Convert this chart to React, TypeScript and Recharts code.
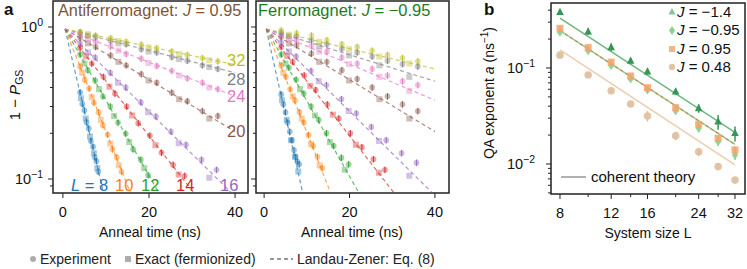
import React from 'react';
import { ComposedChart, Scatter, XAxis, YAxis, ReferenceArea, ErrorBar } from 'recharts';

const W = 747;
const H = 269;
const FONT = '"Liberation Sans", Arial, Helvetica, sans-serif';
const AXIS_COLOR = '#222';

// ---------------- panel a data (1 - P_GS vs anneal time) ----------------
const L_SIZES = [8, 10, 12, 14, 16, 20, 24, 28, 32];
const L_COLORS = ['#1f77b4', '#ff7f0e', '#2ca02c', '#d62728', '#9467bd', '#8c564b', '#e377c2', '#7f7f7f', '#bcbd22'];

const EXP_TIMES = [
  [4.0, 4.5, 5.0, 5.5, 6.0, 6.5, 7.0, 7.4, 7.8, 8.2],
  [4.0, 5.1, 6.1, 7.2, 8.3, 9.3, 10.4, 11.5, 12.5, 13.6],
  [4.0, 5.8, 7.5, 9.3, 11.0, 12.8, 14.6, 16.3, 18.1, 19.8],
  [4.0, 6.7, 9.4, 12.1, 14.8, 17.5, 20.2, 22.9, 25.6, 28.3],
  [4.0, 7.5, 11.0, 14.6, 18.1, 21.6, 25.1, 28.6, 32.2, 35.7],
  [4.0, 7.6, 11.1, 14.7, 18.2, 21.8, 25.3, 28.9, 32.4, 36.0],
  [4.0, 7.6, 11.1, 14.7, 18.2, 21.8, 25.3, 28.9, 32.4, 36.0],
  [4.0, 7.6, 11.1, 14.7, 18.2, 21.8, 25.3, 28.9, 32.4, 36.0],
  [4.0, 7.6, 11.1, 14.7, 18.2, 21.8, 25.3, 28.9, 32.4, 36.0],
];
const EXACT_TIMES = [
  [4.2, 5.3, 6.3, 7.2, 8.0],
  [4.5, 6.7, 8.8, 11.0, 13.0],
  [5.0, 8.4, 11.9, 15.4, 18.9],
  [5.4, 10.8, 16.1, 21.5, 26.9],
  [5.8, 12.8, 19.8, 26.9, 34.0],
  [5.8, 12.9, 19.9, 27.0, 34.0],
  [5.8, 12.9, 19.9, 27.0, 34.0],
  [5.8, 12.9, 19.9, 27.0, 34.0],
  [5.8, 12.9, 19.9, 27.0, 34.0],
];

const AFM_EXP = [
  [0.372, 0.312, 0.283, 0.236, 0.215, 0.178, 0.163, 0.139, 0.131, 0.112],
  [0.55, 0.45, 0.395, 0.318, 0.275, 0.226, 0.196, 0.157, 0.139, 0.112],
  [0.66, 0.52, 0.445, 0.35, 0.30, 0.235, 0.199, 0.157, 0.134, 0.106],
  [0.73, 0.575, 0.47, 0.365, 0.30, 0.233, 0.193, 0.149, 0.124, 0.105],
  [0.78, 0.63, 0.50, 0.40, 0.32, 0.258, 0.205, 0.168, 0.134, 0.115],
  [0.85, 0.74, 0.65, 0.56, 0.49, 0.43, 0.37, 0.325, 0.28, 0.26],
  [0.89, 0.80, 0.745, 0.665, 0.62, 0.555, 0.515, 0.46, 0.43, 0.39],
  [0.92, 0.86, 0.81, 0.77, 0.715, 0.68, 0.635, 0.60, 0.56, 0.53],
  [0.93, 0.88, 0.845, 0.80, 0.765, 0.725, 0.69, 0.655, 0.625, 0.595],
];
const AFM_EXACT = [
  [0.34, 0.25, 0.19, 0.148, 0.118],
  [0.50, 0.345, 0.245, 0.171, 0.123],
  [0.575, 0.39, 0.26, 0.175, 0.118],
  [0.64, 0.405, 0.262, 0.167, 0.107],
  [0.68, 0.43, 0.275, 0.172, 0.102],
  [0.78, 0.59, 0.445, 0.335, 0.25],
  [0.84, 0.70, 0.58, 0.48, 0.40],
  [0.88, 0.78, 0.69, 0.615, 0.545],
  [0.90, 0.81, 0.735, 0.665, 0.605],
];
const FM_EXP = [
  [0.36, 0.31, 0.275, 0.235, 0.205, 0.18, 0.155, 0.14, 0.13, 0.125],
  [0.56, 0.47, 0.39, 0.33, 0.275, 0.235, 0.195, 0.165, 0.14, 0.118],
  [0.66, 0.54, 0.45, 0.365, 0.30, 0.245, 0.20, 0.165, 0.138, 0.125],
  [0.74, 0.59, 0.48, 0.385, 0.31, 0.25, 0.20, 0.162, 0.135, 0.115],
  [0.79, 0.64, 0.515, 0.415, 0.335, 0.27, 0.22, 0.18, 0.148, 0.128],
  [0.86, 0.76, 0.67, 0.59, 0.52, 0.455, 0.40, 0.35, 0.31, 0.28],
  [0.89, 0.82, 0.75, 0.69, 0.63, 0.575, 0.53, 0.48, 0.44, 0.415],
  [0.92, 0.87, 0.82, 0.77, 0.72, 0.68, 0.64, 0.60, 0.57, 0.55],
  [0.95, 0.91, 0.88, 0.82, 0.77, 0.74, 0.70, 0.655, 0.625, 0.595],
];
const FM_EXACT = [
  [0.33, 0.245, 0.18, 0.14, 0.112],
  [0.50, 0.35, 0.25, 0.17, 0.123],
  [0.575, 0.39, 0.262, 0.175, 0.115],
  [0.645, 0.41, 0.265, 0.168, 0.11],
  [0.69, 0.44, 0.28, 0.178, 0.105],
  [0.78, 0.59, 0.445, 0.335, 0.25],
  [0.835, 0.69, 0.57, 0.47, 0.38],
  [0.87, 0.75, 0.65, 0.56, 0.47],
  [0.89, 0.80, 0.715, 0.64, 0.575],
];

const LZ_START = [0.5, 0.97];
const AFM_LZ_END = [[9.4, 0.082], [15.6, 0.082], [22.2, 0.082], [30.3, 0.082], [39.0, 0.082], [40, 0.205], [40, 0.35], [40, 0.5], [40, 0.565]];
const FM_LZ_END = [[9.0, 0.082], [15.5, 0.082], [22.1, 0.082], [30.3, 0.082], [39.2, 0.082], [40, 0.205], [40, 0.33], [40, 0.44], [40, 0.53]];

const A_X_TICKS = [0, 20, 40];
const A_Y_TICKS = [0.09, 0.1, 0.2, 0.3, 0.4, 0.5, 0.6, 0.7, 0.8, 0.9, 1];
const A_Y_MAJOR = [0.1, 1];
const A_Y_DOMAIN = [0.0809, 1.483];
const A_ERR_FRAC = 0.05;

// ---------------- panel b data (QA exponent vs system size) ----------------
const B_SIZES = [8, 10, 12, 14, 16, 20, 24, 28, 32];
const B_J_M14 = [0.38, 0.239, 0.164, 0.118, 0.0916, 0.0567, 0.038, 0.0276, 0.0209];
const B_ERR_M14 = [0.005, 0.019, 0.016, 0.0095, 0.0073, 0.0045, 0.0038, 0.0048, 0.0037];
const B_J_M095 = [0.235, 0.151, 0.106, 0.0768, 0.059, 0.0359, 0.0235, 0.0171, 0.0124];
const B_ERR_M095 = [0.012, 0.008, 0.006, 0.004, 0.004, 0.003, 0.002, 0.0017, 0.0014];
const B_J_P095 = [0.259, 0.163, 0.115, 0.0826, 0.0624, 0.0386, 0.0259, 0.0185, 0.014];
const B_ERR_P095 = [0.01, 0.007, 0.005, 0.004, 0.003, 0.002, 0.0018, 0.0015, 0.0012];
const B_J_P048 = [0.136, 0.0846, 0.058, 0.0422, 0.0316, 0.0197, 0.0134, 0.0094, 0.0068];
const B_ERR_P048 = [0.007, 0.004, 0.003, 0.003, 0.004, 0.002, 0.0013, 0.0007, 0.0005];

const THEORY_L = [8, 32];
const THEORY_M14 = [0.33, 0.0214];
const THEORY_M095 = [0.245, 0.016];
const THEORY_P095 = [0.245, 0.016];
const THEORY_P048 = [0.154, 0.0098];

const B_X_TICKS = [8, 10, 12, 14, 16, 20, 24, 28, 32];
const B_X_LABELED = [8, 12, 16, 24, 32];
const B_Y_TICKS = [0.005, 0.006, 0.007, 0.008, 0.009, 0.01, 0.02, 0.03, 0.04, 0.05, 0.06, 0.07, 0.08, 0.09, 0.1, 0.2, 0.3, 0.4];
const B_Y_MAJOR = [0.01, 0.1];
const B_X_DOMAIN = [7.45, 34.64];
const B_Y_DOMAIN = [0.00487, 0.475];

const C_M14 = '#379657';
const C_M14_LINE = '#6cb880';
const C_M095 = '#8fd08c';
const C_M095_LINE = '#92cc90';
const C_P095 = '#f2a36c';
const C_P095_LINE = '#c58a52';
const C_P048 = '#dfbf9f';
const C_P048_LINE = '#eccdae';

// ---------------- helpers ----------------
const pts = (xs: number[], ys: number[], errFrac = 0) => xs.map((x, i) => ({ x, y: ys[i], e: ys[i] * errFrac }));
const ptsErr = (xs: number[], ys: number[], es: number[]) => xs.map((x, i) => ({ x, y: ys[i], e: es[i] }));
const isIn = (arr: number[], v: number) => arr.some((m) => Math.abs(m - v) < 1e-9);
const expLabel = (v: number) => {
  const e = Math.round(Math.log10(v));
  return e < 0 ? '\u2212' + Math.abs(e) : String(e);
};

const EmptyShape = () => <g />;

const makeYTick = (majors: number[], showLabel: boolean, gap: number) => (props: any) => {
  const { x, y, payload } = props;
  const v = payload.value;
  const major = isIn(majors, v);
  const len = major ? 5 : 3;
  return (
    <g>
      <line x1={x - len} x2={x} y1={y} y2={y} stroke={AXIS_COLOR} strokeWidth={1} />
      {major && showLabel && (
        <text x={x - gap} y={y + 5} textAnchor="end" fontSize={14.5} fontFamily={FONT} fill="#111">
          10<tspan dy={-6} fontSize={10.5}>{expLabel(v)}</tspan>
        </text>
      )}
    </g>
  );
};

const makeXTick = (labeled: number[] | null) => (props: any) => {
  const { x, y, payload } = props;
  const v = payload.value;
  const major = labeled ? isIn(labeled, v) : true;
  const len = major ? 5 : 3;
  return (
    <g>
      <line x1={x} x2={x} y1={y} y2={y + len} stroke={AXIS_COLOR} strokeWidth={1} />
      {major && (
        <text x={x} y={y + 24} textAnchor="middle" fontSize={14.5} fontFamily={FONT} fill="#111">
          {v}
        </text>
      )}
    </g>
  );
};

const circleShape = (color: string, r: number, op: number) => (p: any) => (
  <circle cx={p.cx} cy={p.cy} r={r} fill={color} fillOpacity={op} />
);
const squareShape = (color: string, s: number, op: number) => (p: any) => (
  <rect x={p.cx - s / 2} y={p.cy - s / 2} width={s} height={s} fill={color} fillOpacity={op} />
);
const triShape = (color: string) => (p: any) => (
  <polygon points={`${p.cx},${p.cy - 4.5} ${p.cx - 3.8},${p.cy + 2.8} ${p.cx + 3.8},${p.cy + 2.8}`} fill={color} />
);
const diamondShape = (color: string) => (p: any) => (
  <polygon points={`${p.cx},${p.cy - 4.5} ${p.cx + 3.2},${p.cy} ${p.cx},${p.cy + 4.5} ${p.cx - 3.2},${p.cy}`} fill={color} fillOpacity={0.9} />
);

// axis band sizes (Recharts skips drawing an axis with zero size)
const AXIS_BAND = 1;

// ---------------- panels ----------------
function TimePanel(props: {
  left: number;
  right: number;
  xDomain: number[];
  exp: number[][];
  exact: number[][];
  lzEnd: number[][];
  showYLabels: boolean;
}) {
  const { left, right, xDomain, exp, exact, lzEnd, showYLabels } = props;
  const top = 1;
  const bottom = 193;
  return (
    <div style={{ position: 'absolute', left: 0, top: 0 }}>
      <ComposedChart
        width={W}
        height={H}
        margin={{ top, bottom: H - bottom - AXIS_BAND, left: left - AXIS_BAND, right: W - right }}
      >
        <XAxis
          type="number"
          dataKey="x"
          domain={xDomain}
          allowDataOverflow
          ticks={A_X_TICKS}
          interval={0}
          height={AXIS_BAND}
          tickSize={0}
          tickMargin={0}
          tickLine={false}
          axisLine={false}
          tick={makeXTick(null)}
        />
        <YAxis
          type="number"
          dataKey="y"
          scale="log"
          domain={A_Y_DOMAIN}
          allowDataOverflow
          ticks={A_Y_TICKS}
          interval={0}
          width={AXIS_BAND}
          tickSize={0}
          tickMargin={0}
          tickLine={false}
          axisLine={false}
          tick={makeYTick(A_Y_MAJOR, showYLabels, 10)}
        />
        {L_SIZES.map((L, i) => (
          <Scatter
            key={'lz' + L}
            data={[
              { x: LZ_START[0], y: LZ_START[1] },
              { x: lzEnd[i][0], y: lzEnd[i][1] },
            ]}
            line={{ stroke: L_COLORS[i], strokeWidth: 1.2, strokeDasharray: '4 3', strokeOpacity: 0.7 }}
            shape={EmptyShape}
            isAnimationActive={false}
          />
        ))}
        {L_SIZES.map((L, i) => (
          <Scatter
            key={'ex' + L}
            data={pts(EXACT_TIMES[i], exact[i])}
            shape={squareShape(L_COLORS[i], 6, 0.4)}
            isAnimationActive={false}
          />
        ))}
        {L_SIZES.map((L, i) => (
          <Scatter
            key={'xp' + L}
            data={pts(EXP_TIMES[i], exp[i], A_ERR_FRAC)}
            shape={circleShape(L_COLORS[i], 2.9, 0.45)}
            isAnimationActive={false}
          >
            <ErrorBar dataKey="e" direction="y" width={0} stroke={L_COLORS[i]} strokeWidth={1} strokeOpacity={0.9} />
          </Scatter>
        ))}
        <ReferenceArea
          x1={xDomain[0]}
          x2={xDomain[1]}
          y1={A_Y_DOMAIN[0]}
          y2={A_Y_DOMAIN[1]}
          fill="none"
          fillOpacity={0}
          stroke={AXIS_COLOR}
          strokeWidth={1.5}
          ifOverflow="visible"
        />
      </ComposedChart>
    </div>
  );
}

function SizePanel() {
  const left = 551;
  const right = 745;
  const top = 3;
  const bottom = 194;
  const theory = (ys: number[]) => THEORY_L.map((x, i) => ({ x, y: ys[i] }));
  return (
    <div style={{ position: 'absolute', left: 0, top: 0 }}>
      <ComposedChart
        width={W}
        height={H}
        margin={{ top, bottom: H - bottom - AXIS_BAND, left: left - AXIS_BAND, right: W - right }}
      >
        <XAxis
          type="number"
          dataKey="x"
          scale="log"
          domain={B_X_DOMAIN}
          allowDataOverflow
          ticks={B_X_TICKS}
          interval={0}
          height={AXIS_BAND}
          tickSize={0}
          tickMargin={0}
          tickLine={false}
          axisLine={false}
          tick={makeXTick(B_X_LABELED)}
        />
        <YAxis
          type="number"
          dataKey="y"
          scale="log"
          domain={B_Y_DOMAIN}
          allowDataOverflow
          ticks={B_Y_TICKS}
          interval={0}
          width={AXIS_BAND}
          tickSize={0}
          tickMargin={0}
          tickLine={false}
          axisLine={false}
          tick={makeYTick(B_Y_MAJOR, true, 16)}
        />
        <Scatter data={theory(THEORY_P048)} line={{ stroke: C_P048_LINE, strokeWidth: 1.5 }} shape={EmptyShape} isAnimationActive={false} />
        <Scatter data={theory(THEORY_M14)} line={{ stroke: C_M14_LINE, strokeWidth: 1.5 }} shape={EmptyShape} isAnimationActive={false} />
        <Scatter data={theory(THEORY_M095)} line={{ stroke: C_M095_LINE, strokeWidth: 1.5 }} shape={EmptyShape} isAnimationActive={false} />
        <Scatter data={theory(THEORY_P095)} line={{ stroke: C_P095_LINE, strokeWidth: 1.2, strokeDasharray: '3 3' }} shape={EmptyShape} isAnimationActive={false} />

        <Scatter data={ptsErr(B_SIZES, B_J_P048, B_ERR_P048)} shape={circleShape(C_P048, 3.8, 0.9)} isAnimationActive={false}>
          <ErrorBar dataKey="e" direction="y" width={0} stroke={C_P048} strokeWidth={1.5} />
        </Scatter>
        <Scatter data={ptsErr(B_SIZES, B_J_M095, B_ERR_M095)} shape={diamondShape(C_M095)} isAnimationActive={false}>
          <ErrorBar dataKey="e" direction="y" width={0} stroke={C_M095} strokeWidth={1.5} />
        </Scatter>
        <Scatter data={ptsErr(B_SIZES, B_J_P095, B_ERR_P095)} shape={squareShape(C_P095, 7, 0.85)} isAnimationActive={false}>
          <ErrorBar dataKey="e" direction="y" width={0} stroke={C_P095} strokeWidth={1.5} />
        </Scatter>
        <Scatter data={ptsErr(B_SIZES, B_J_M14, B_ERR_M14)} shape={triShape(C_M14)} isAnimationActive={false}>
          <ErrorBar dataKey="e" direction="y" width={0} stroke={C_M14} strokeWidth={1.5} />
        </Scatter>
        <ReferenceArea
          x1={B_X_DOMAIN[0]}
          x2={B_X_DOMAIN[1]}
          y1={B_Y_DOMAIN[0]}
          y2={B_Y_DOMAIN[1]}
          fill="none"
          fillOpacity={0}
          stroke={AXIS_COLOR}
          strokeWidth={1.5}
          ifOverflow="visible"
        />
      </ComposedChart>
    </div>
  );
}

function Overlay() {
  const sizeLabel = (txt: string, x: number, y: number, color: string, italicL = false) => (
    <text x={x} y={y} fontSize={16.5} fill={color}>
      {italicL ? (
        <>
          <tspan fontStyle="italic">L</tspan> = {txt}
        </>
      ) : (
        txt
      )}
    </text>
  );
  return (
    <svg width={W} height={H} style={{ position: 'absolute', left: 0, top: 0, pointerEvents: 'none' }} fontFamily={FONT}>
      <text x={4} y={15} fontSize={17} fontWeight="bold" fill="#111">a</text>
      <text x={484} y={15} fontSize={17} fontWeight="bold" fill="#111">b</text>

      <text x={58} y={16} fontSize={16.3} fill="#7d5536">
        Antiferromagnet: <tspan fontStyle="italic">J</tspan> = 0.95
      </text>
      <text x={258} y={16} fontSize={16.5} fill="#1f7a1f">
        Ferromagnet: <tspan fontStyle="italic">J</tspan> = {'\u2212'}0.95
      </text>

      {sizeLabel('32', 227, 66, L_COLORS[8])}
      {sizeLabel('28', 227, 85, L_COLORS[7])}
      {sizeLabel('24', 227, 102, L_COLORS[6])}
      {sizeLabel('20', 227, 137, L_COLORS[5])}
      {sizeLabel('8', 71, 191, L_COLORS[0], true)}
      {sizeLabel('10', 115, 191, L_COLORS[1])}
      {sizeLabel('12', 141, 191, L_COLORS[2])}
      {sizeLabel('14', 176, 191, L_COLORS[3])}
      {sizeLabel('16', 220, 191, L_COLORS[4])}

      <text transform="translate(15,95) rotate(-90)" textAnchor="middle" fontSize={15} dy={5} fill="#111">
        1 {'\u2212'} <tspan fontStyle="italic">P</tspan>
        <tspan fontSize={10.5} dy={3}>GS</tspan>
      </text>
      <text x={150} y={237} textAnchor="middle" fontSize={14} fill="#111">Anneal time (ns)</text>
      <text x={352} y={237} textAnchor="middle" fontSize={14} fill="#111">Anneal time (ns)</text>

      <circle cx={33} cy={259} r={3} fill="#999" fillOpacity={0.8} />
      <text x={40} y={264} fontSize={14} fill="#222">Experiment</text>
      <rect x={125} y={256} width={6} height={6} fill="#999" fillOpacity={0.8} />
      <text x={135} y={264} fontSize={14} fill="#222">Exact (fermionized)</text>
      <line x1={270} x2={293} y1={259} y2={259} stroke="#333" strokeWidth={1.2} strokeDasharray="4 3" />
      <text x={297} y={264} fontSize={14} fill="#222">Landau-Zener: Eq. (8)</text>

      <text transform="translate(489,93) rotate(-90)" textAnchor="middle" fontSize={14} dy={5} fill="#111">
        QA exponent <tspan fontStyle="italic">a</tspan> (ns<tspan fontSize={10} dy={-6}>{'\u2212'}1</tspan>
        <tspan dy={6}>)</tspan>
      </text>
      <text x={648} y={238} textAnchor="middle" fontSize={14} fill="#111">System size L</text>

      <polygon points="672,8 668.5,14.5 675.5,14.5" fill={C_M14} fillOpacity={0.6} />
      <text x={677} y={17} fontSize={15} fill="#111"><tspan fontStyle="italic">J</tspan> = {'\u2212'}1.4</text>
      <polygon points="672,26 675,30.5 672,35 669,30.5" fill={C_M095} />
      <text x={677} y={35} fontSize={15} fill="#111"><tspan fontStyle="italic">J</tspan> = {'\u2212'}0.95</text>
      <rect x={669} y={46} width={6} height={6} fill={C_P095} fillOpacity={0.8} />
      <text x={677} y={54} fontSize={15} fill="#111"><tspan fontStyle="italic">J</tspan> = 0.95</text>
      <circle cx={672} cy={67} r={3.2} fill={C_P048} fillOpacity={0.9} />
      <text x={677} y={72} fontSize={15} fill="#111"><tspan fontStyle="italic">J</tspan> = 0.48</text>

      <line x1={561} x2={586} y1={177} y2={177} stroke="#999" strokeWidth={1.5} />
      <text x={591} y={182} fontSize={15} fill="#111">coherent theory</text>
    </svg>
  );
}

export default function App() {
  return (
    <div style={{ position: 'absolute', left: 0, top: 0, width: W, height: H, background: '#fff', fontFamily: FONT }}>
      <TimePanel left={53} right={248} xDomain={[-2.3, 43.0]} exp={AFM_EXP} exact={AFM_EXACT} lzEnd={AFM_LZ_END} showYLabels={true} />
      <TimePanel left={256} right={449} xDomain={[-1.9, 43.3]} exp={FM_EXP} exact={FM_EXACT} lzEnd={FM_LZ_END} showYLabels={false} />
      <SizePanel />
      <Overlay />
    </div>
  );
}
